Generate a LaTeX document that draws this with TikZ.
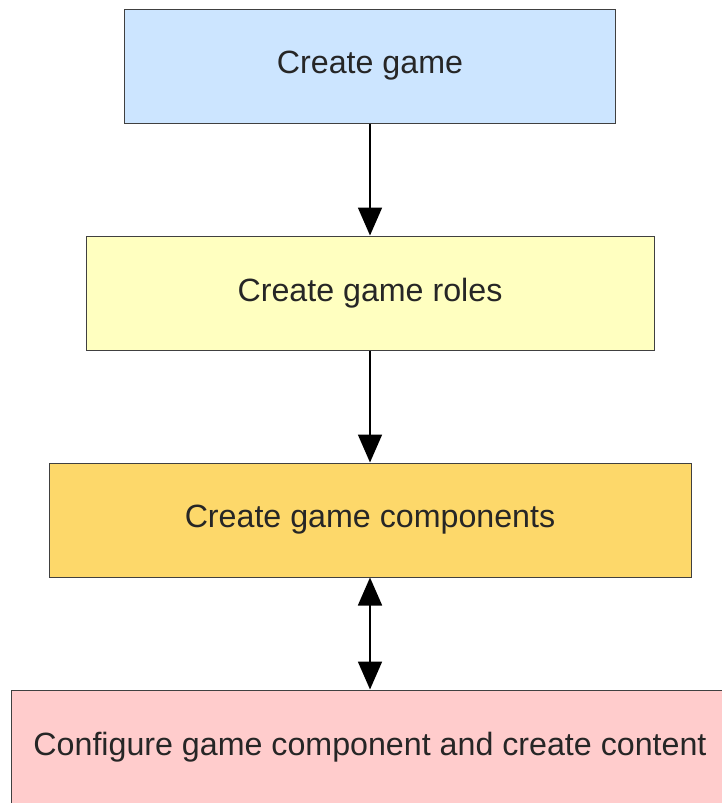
\documentclass[tikz,border=0pt]{standalone}
\usepackage{fontspec}
\setmainfont{Liberation Sans}
\usetikzlibrary{positioning,arrows.meta}

\definecolor{gameblue}{RGB}{204,229,255}
\definecolor{roleyellow}{RGB}{255,255,192}
\definecolor{comporange}{RGB}{253,216,106}
\definecolor{contentpink}{RGB}{255,204,204}

\tikzset{
  stepbox/.style={draw=black!75, line width=1pt, minimum height=114pt,
    inner sep=0pt, font=\fontsize{32.2}{37}\selectfont, text=black!85},
  flow/.style={line width=1.8pt, -{Triangle[width=24pt,length=28pt]}},
  flowboth/.style={line width=1.8pt, {Triangle[width=24pt,length=28pt]}-{Triangle[width=24pt,length=28pt]}}
}

\begin{document}
\begin{tikzpicture}[x=1pt,y=1pt]
  % Fix the page to the size of the reference
  \useasboundingbox (0,0) rectangle (721,-803);

  % The four steps, one below the other
  \node[stepbox, fill=gameblue, minimum width=491pt] (game) at (370,-66) {Create game};
  \node[stepbox, fill=roleyellow, minimum width=568pt, below=112pt of game] (roles) {Create game roles};
  \node[stepbox, fill=comporange, minimum width=642pt, below=112pt of roles] (comps) {Create game components};
  \node[stepbox, fill=contentpink, minimum width=718pt, below=112pt of comps] (content) {Configure game component and create content};

  % Connectors
  \draw[flow] (game) -- (roles);
  \draw[flow] (roles) -- (comps);
  \draw[flowboth] (comps) -- (content);
\end{tikzpicture}
\end{document}
